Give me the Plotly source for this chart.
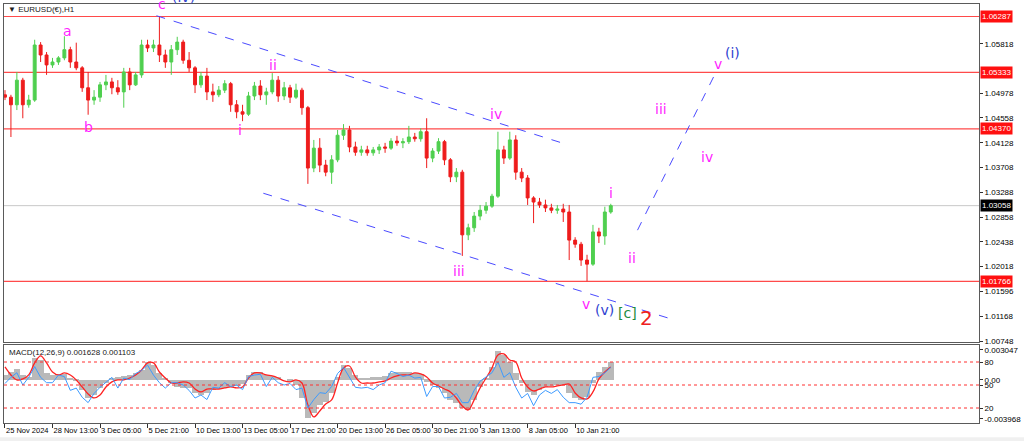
import plotly.graph_objects as go

# ---------------- data ----------------
# candle positions (H1 bar index, one candle every 8 hourly bars)
bar_index = list(range(0, 824, 8))

opens = [1.0495, 1.0491, 1.0478, 1.0520, 1.0478, 1.0486, 1.0580, 1.0563, 1.0546, 1.0551,
         1.0558, 1.0572, 1.0551, 1.0541, 1.0507, 1.0486, 1.0491, 1.0512, 1.0517, 1.0507,
         1.0500, 1.0534, 1.0512, 1.0529, 1.0580, 1.0575, 1.0580, 1.0563, 1.0551, 1.0572,
         1.0585, 1.0554, 1.0541, 1.0512, 1.0527, 1.0500, 1.0495, 1.0503, 1.0514, 1.0478,
         1.0466, 1.0462, 1.0493, 1.0510, 1.0495, 1.0500, 1.0520, 1.0493, 1.0507, 1.0491,
         1.0503, 1.0473, 1.0370, 1.0404, 1.0375, 1.0363, 1.0384, 1.0426, 1.0435, 1.0406,
         1.0397, 1.0401, 1.0396, 1.0401, 1.0406, 1.0404, 1.0416, 1.0413, 1.0415, 1.0423,
         1.0420, 1.0432, 1.0387, 1.0399, 1.0415, 1.0384, 1.0355, 1.0363, 1.0256, 1.0268,
         1.0288, 1.0298, 1.0305, 1.0322, 1.0401, 1.0387, 1.0418, 1.0363, 1.0353, 1.0319,
         1.0312, 1.0307, 1.0302, 1.0298, 1.0300, 1.0295, 1.0247, 1.0240, 1.0213, 1.0206,
         1.0261, 1.0254, 1.0295]
closes = [1.0491, 1.0478, 1.0520, 1.0478, 1.0486, 1.0580, 1.0563, 1.0546, 1.0551, 1.0558,
          1.0572, 1.0551, 1.0541, 1.0507, 1.0486, 1.0491, 1.0512, 1.0517, 1.0507, 1.0500,
          1.0534, 1.0512, 1.0529, 1.0580, 1.0575, 1.0580, 1.0563, 1.0551, 1.0572, 1.0585,
          1.0554, 1.0541, 1.0512, 1.0527, 1.0500, 1.0495, 1.0503, 1.0514, 1.0478, 1.0466,
          1.0462, 1.0493, 1.0510, 1.0495, 1.0500, 1.0520, 1.0493, 1.0507, 1.0491, 1.0503,
          1.0473, 1.0370, 1.0404, 1.0375, 1.0363, 1.0384, 1.0426, 1.0435, 1.0406, 1.0397,
          1.0401, 1.0396, 1.0401, 1.0406, 1.0404, 1.0416, 1.0413, 1.0415, 1.0423, 1.0420,
          1.0432, 1.0387, 1.0399, 1.0415, 1.0384, 1.0355, 1.0363, 1.0256, 1.0268, 1.0288,
          1.0298, 1.0305, 1.0322, 1.0401, 1.0387, 1.0418, 1.0363, 1.0353, 1.0319, 1.0312,
          1.0307, 1.0302, 1.0298, 1.0300, 1.0295, 1.0247, 1.0240, 1.0213, 1.0206, 1.0261,
          1.0254, 1.0295, 1.03058]
highs = [1.0503, 1.0495, 1.0534, 1.0524, 1.0495, 1.0589, 1.0585, 1.0568, 1.0558, 1.0561,
         1.0595, 1.0577, 1.0584, 1.0544, 1.0534, 1.0503, 1.0517, 1.0529, 1.0524, 1.0520,
         1.0541, 1.0541, 1.0534, 1.0589, 1.0589, 1.0589, 1.0629, 1.0572, 1.0580, 1.0594,
         1.0589, 1.0568, 1.0544, 1.0534, 1.0541, 1.0514, 1.0510, 1.0520, 1.0517, 1.0486,
         1.0478, 1.0500, 1.0517, 1.0520, 1.0507, 1.0532, 1.0527, 1.0517, 1.0512, 1.0514,
         1.0507, 1.0476, 1.0418, 1.0421, 1.0384, 1.0392, 1.0435, 1.0445, 1.0442, 1.0415,
         1.0408, 1.0408, 1.0406, 1.0411, 1.0413, 1.0421, 1.0425, 1.0421, 1.0442, 1.0430,
         1.0438, 1.0455, 1.0404, 1.0421, 1.0418, 1.0387, 1.0370, 1.0367, 1.0275, 1.0295,
         1.0307, 1.0312, 1.0326, 1.0432, 1.0408, 1.0432, 1.0426, 1.0370, 1.0358, 1.0322,
         1.0319, 1.0316, 1.0309, 1.0307, 1.0309, 1.0307, 1.0252, 1.0244, 1.0222, 1.0273,
         1.0268, 1.0304, 1.0309]
lows = [1.0486, 1.0423, 1.0469, 1.0455, 1.0473, 1.0483, 1.0551, 1.0529, 1.0541, 1.0546,
        1.0554, 1.0541, 1.0537, 1.0500, 1.0461, 1.0478, 1.0483, 1.0503, 1.0496, 1.0495,
        1.0473, 1.0503, 1.0510, 1.0524, 1.0568, 1.0568, 1.0551, 1.0541, 1.0529, 1.0563,
        1.0548, 1.0534, 1.0498, 1.0507, 1.0486, 1.0483, 1.0491, 1.0498, 1.0466, 1.0455,
        1.0450, 1.0459, 1.0486, 1.0486, 1.0478, 1.0496, 1.0483, 1.0486, 1.0481, 1.0488,
        1.0461, 1.0343, 1.0363, 1.0363, 1.0356, 1.0343, 1.0380, 1.0418, 1.0397, 1.0391,
        1.0391, 1.0391, 1.0391, 1.0394, 1.0396, 1.0401, 1.0408, 1.0404, 1.0411, 1.0415,
        1.0415, 1.0370, 1.0380, 1.0394, 1.0375, 1.0346, 1.0346, 1.0220, 1.0247, 1.0261,
        1.0281, 1.0292, 1.0302, 1.0319, 1.0377, 1.0384, 1.0350, 1.0346, 1.0307, 1.0276,
        1.0302, 1.0295, 1.0293, 1.0292, 1.0278, 1.0213, 1.0234, 1.0203, 1.0177, 1.0203,
        1.0242, 1.0239, 1.0292]

macd_main = [0.00051, 0.00081, 0.00112, 0.00051, 0.00031, 0.00224, 0.00203, 0.00071, 0.00051, 0.00061,
             0.00061, 0.00020, -0.00010, -0.00102, -0.00183, -0.00153, -0.00081, -0.00031, 0.00010, 0.00031,
             0.00041, 0.00051, 0.00071, 0.00102, 0.00183, 0.00153, 0.00071, 0.00020, -0.00031, -0.00071,
             -0.00081, -0.00081, -0.00132, -0.00153, -0.00132, -0.00102, -0.00092, -0.00081, -0.00071, -0.00061,
             -0.00041, 0.00051, 0.00081, 0.00081, 0.00051, 0.00041, 0.00031, 0.0, -0.00020, -0.00051,
             -0.00183, -0.00386, -0.00336, -0.00254, -0.00224, -0.00132, 0.00031, 0.00153, 0.00122, 0.00051,
             0.00020, 0.00020, 0.00031, 0.00031, 0.00041, 0.00071, 0.00081, 0.00081, 0.00081, 0.00071,
             0.00061, -0.00020, -0.00051, -0.00081, -0.00132, -0.00203, -0.00234, -0.00285, -0.00305, -0.00203,
             -0.00071, 0.00020, 0.00132, 0.00295, 0.00254, 0.00183, 0.00071, -0.00031, -0.00122, -0.00153,
             -0.00102, -0.00071, -0.00061, -0.00051, -0.00051, -0.00132, -0.00183, -0.00203, -0.00173, -0.00031,
             0.00081, 0.00132, 0.00183]
macd_signal = [0.00132, 0.00051, 0.0, 0.00010, 0.00051, 0.00173, 0.00244, 0.00173, 0.00081, 0.00051,
               0.00071, 0.00051, 0.0, -0.00071, -0.00142, -0.00183, -0.00153, -0.00071, -0.00020, 0.0,
               0.0, 0.00020, 0.00051, 0.00102, 0.00173, 0.00173, 0.00081, 0.00020, -0.00031, -0.00031,
               -0.00020, -0.00031, -0.00092, -0.00122, -0.00092, -0.00092, -0.00092, -0.00081, -0.00071, -0.00081,
               -0.00071, 0.00020, 0.00071, 0.00071, 0.00051, 0.00041, 0.00020, -0.00010, -0.00020, 0.0,
               -0.00031, -0.00254, -0.00376, -0.00315, -0.00244, -0.00203, -0.00031, 0.00122, 0.00142, 0.00031,
               -0.00031, -0.00031, -0.00031, -0.00020, -0.00010, 0.00020, 0.00041, 0.00051, 0.00051, 0.00071,
               0.00061, 0.00031, -0.00031, -0.00061, -0.00092, -0.00122, -0.00183, -0.00264, -0.00305, -0.00203,
               -0.00081, 0.00020, 0.00122, 0.00254, 0.00264, 0.00203, 0.00183, 0.00020, -0.00071, -0.00112,
               -0.00092, -0.00071, -0.00071, -0.00061, -0.00051, -0.00041, -0.00132, -0.00183, -0.00193, -0.00122,
               0.00010, 0.00081, 0.00132]
oscillator = [52, 60, 66, 50, 60, 74, 60, 53, 53, 63,
              61, 43, 46, 34, 27, 39, 47, 53, 60, 46,
              59, 57, 65, 69, 76, 63, 53, 46, 53, 53,
              50, 43, 33, 37, 31, 47, 46, 53, 48, 50,
              44, 61, 63, 64, 48, 60, 53, 50, 52, 44,
              46, 20, 31, 40, 39, 48, 65, 73, 59, 47,
              46, 47, 44, 50, 53, 68, 65, 61, 63, 59,
              60, 35, 48, 48, 33, 34, 39, 27, 27, 43,
              55, 60, 66, 80, 60, 66, 47, 33, 39, 23,
              37, 43, 39, 44, 34, 27, 27, 25, 34, 60,
              61, 66, 73]
osc_levels = [80, 50, 20]

x_tick_bars = [0, 64, 128, 192, 256, 320, 384, 448, 512, 576, 640, 704, 768]
x_tick_labels = ["25 Nov 2024", "28 Nov 13:00", "3 Dec 05:00", "5 Dec 21:00", "10 Dec 13:00",
                 "13 Dec 05:00", "17 Dec 21:00", "20 Dec 13:00", "26 Dec 05:00", "30 Dec 21:00",
                 "3 Jan 13:00", "8 Jan 05:00", "10 Jan 21:00"]
price_ticks = [1.05818, 1.04978, 1.04558, 1.04128, 1.03708, 1.03288,
               1.02858, 1.02438, 1.02018, 1.01596, 1.01168, 1.00748]
price_tick_labels = ["1.05818", "1.04978", "1.04558", "1.04128", "1.03708",
                     "1.03288", "1.02858", "1.02438", "1.02018", "1.01596", "1.01168", "1.00748"]
macd_ticks = [0.003047, 0.0, -0.003968]
macd_tick_labels = ["0.003047", "0.00", "-0.003968"]

level_prices = [1.06287, 1.05333, 1.04370, 1.01766]
level_labels = ["1.06287", "1.05333", "1.04370", "1.01766"]
current_price = 1.03058
current_label = "1.03058"

# channel / projection lines: (bar0, price0, bar1, price1)
trend_lines = [(204, 1.0630, 755, 1.0411),
               (348, 1.0327, 901, 1.0111),
               (852, 1.0264, 957, 1.0532)]

MAG = "#ff1fff"
BLUE = "#2f3fd0"
# (text, bar, price, colour, size, yshift)
wave_labels = [
    ("a", 84, 1.0604, MAG, 14, 0), ("b", 112, 1.0440, MAG, 14, 0), ("c", 212, 1.0648, MAG, 14, 1),
    ("(iv)", 240, 1.0649, BLUE, 14, 8),
    ("i", 317, 1.0435, MAG, 14, 0), ("ii", 361, 1.0546, MAG, 14, 0), ("iii", 611, 1.0194, MAG, 14, 0),
    ("iv", 661, 1.0462, MAG, 14, 0), ("v", 783, 1.0138, MAG, 14, 0), ("(v)", 807, 1.0128, BLUE, 14, 0),
    ("[c]", 839, 1.0123, "#1e8c3c", 14, 0), ("2", 864, 1.0114, "#ee2020", 20, 0),
    ("i", 816, 1.0327, MAG, 14, 0), ("ii", 844, 1.0216, MAG, 14, 0), ("iii", 883, 1.0471, MAG, 14, 0),
    ("iv", 945, 1.0389, MAG, 14, 0), ("v", 960, 1.0548, MAG, 14, 0), ("(i)", 980, 1.0566, BLUE, 14, 0),
]

# ---------------- figure ----------------
AX_FONT = dict(family="Liberation Sans", size=8, color="#000000")
FRAME = "#5a5a5a"

fig = go.Figure()
fig.add_trace(go.Candlestick(
    x=bar_index, open=opens, high=highs, low=lows, close=closes,
    xaxis="x", yaxis="y", whiskerwidth=0,
    increasing=dict(line=dict(color="#4fcf4f", width=1), fillcolor="#4fcf4f"),
    decreasing=dict(line=dict(color="#ee1c1c", width=1), fillcolor="#ee1c1c"),
    showlegend=False, hoverinfo="skip"))
fig.add_trace(go.Bar(x=bar_index, y=macd_main, xaxis="x2", yaxis="y2", width=8,
                     marker=dict(color="#b9b9b9", line=dict(width=0)), showlegend=False))
fig.add_trace(go.Scatter(x=bar_index, y=macd_signal, xaxis="x2", yaxis="y2", mode="lines",
                         line=dict(color="#ff2222", width=1.3, shape="spline"), showlegend=False))
fig.add_trace(go.Scatter(x=bar_index, y=oscillator, xaxis="x2", yaxis="y3", mode="lines",
                         line=dict(color="#3d9bff", width=1), showlegend=False))

shapes = []
for p in level_prices:
    shapes.append(dict(type="line", xref="x domain", yref="y", x0=0, x1=1, y0=p, y1=p,
                       line=dict(color="#ff4a4a", width=1.2), layer="below"))
shapes.append(dict(type="line", xref="x domain", yref="y", x0=0, x1=1, y0=current_price,
                   y1=current_price, line=dict(color="#c8c8c8", width=1), layer="below"))
for lv in osc_levels:
    shapes.append(dict(type="line", xref="x2 domain", yref="y3", x0=0, x1=1, y0=lv, y1=lv,
                       line=dict(color="#ff3030", width=1, dash="dot")))
for b0, p0, b1, p1 in trend_lines:
    shapes.append(dict(type="line", xref="x", yref="y", x0=b0, y0=p0, x1=b1, y1=p1,
                       line=dict(color="#4a4aff", width=1, dash="dash")))
shapes.append(dict(type="rect", xref="paper", yref="paper", x0=-0.01, x1=1.05, y0=-0.034,
                   y1=-0.06, fillcolor="#f0f0f0", line=dict(width=0), layer="below"))

annotations = []
for txt, p in zip(level_labels, level_prices):
    annotations.append(dict(xref="paper", yref="y", x=1, y=p, xanchor="left", yanchor="middle",
                            xshift=1, text=txt, showarrow=False, bgcolor="#ff1010",
                            font=dict(family="Liberation Sans", size=8, color="white"), borderpad=1))
annotations.append(dict(xref="paper", yref="y", x=1, y=current_price, xanchor="left",
                        yanchor="middle", xshift=1, text=current_label, showarrow=False,
                        bgcolor="#000000", font=dict(family="Liberation Sans", size=8, color="white"),
                        borderpad=1))
for txt, b, p, col, sz, ys in wave_labels:
    annotations.append(dict(xref="x", yref="y", x=b, y=p, text=txt, showarrow=False, yshift=ys,
                            font=dict(family="DejaVu Sans", size=sz, color=col)))
annotations.append(dict(xref="paper", yref="paper", x=0, y=0.988, xanchor="left", yanchor="middle",
                        xshift=2, text="▼ EURUSD(€),H1", showarrow=False,
                        font=dict(family="Liberation Sans", size=8, color="#202020")))
annotations.append(dict(xref="paper", yref="paper", x=0, y=0.168, xanchor="left", yanchor="middle",
                        xshift=3, text="MACD(12,26,9) 0.001628 0.001103", showarrow=False,
                        font=dict(family="Liberation Sans", size=8, color="#202020")))

fig.update_layout(
    width=1024, height=441,
    margin=dict(l=3, r=36, t=4, b=18),
    paper_bgcolor="white", plot_bgcolor="white",
    showlegend=False, bargap=0,
    shapes=shapes, annotations=annotations,
    xaxis=dict(domain=[0, 1], anchor="y", range=[-1.33, 1312], showticklabels=False,
               showgrid=False, zeroline=False, showline=True, mirror=True, linecolor=FRAME,
               rangeslider=dict(visible=False), ticks=""),
    xaxis2=dict(domain=[0, 1], anchor="y2", matches="x", tickmode="array", tickvals=x_tick_bars,
                ticktext=x_tick_labels, ticks="outside", ticklen=4, tickcolor="#303030",
                tickangle=0, ticklabelposition="outside right",
                tickfont=dict(family="Liberation Sans", size=7.5, color="#000000"),
                showgrid=False, zeroline=False, showline=True, mirror=True, linecolor=FRAME),
    yaxis=dict(domain=[0.1933, 1], anchor="x", side="right", range=[1.00731, 1.06500],
               tickmode="array", tickvals=price_ticks, ticktext=price_tick_labels,
               ticks="outside", ticklen=3, tickcolor="#303030", tickfont=AX_FONT,
               showgrid=False, zeroline=False, showline=True, mirror=True, linecolor=FRAME),
    yaxis2=dict(domain=[0, 0.1862], anchor="x2", side="right", range=[-0.004375, 0.003555],
                tickmode="array", tickvals=macd_ticks, ticktext=macd_tick_labels,
                ticks="outside", ticklen=3, tickcolor="#303030", tickfont=AX_FONT,
                showgrid=False, zeroline=False, showline=True, mirror=True, linecolor=FRAME),
    yaxis3=dict(overlaying="y2", anchor="x2", side="right", range=[0.44, 102.2],
                tickmode="array", tickvals=osc_levels, ticktext=[str(v) for v in osc_levels],
                ticks="outside", ticklen=3, tickcolor="#303030", tickfont=AX_FONT,
                showgrid=False, zeroline=False, showline=False),
)

fig.write_html("out.html", config={"displayModeBar": False},
               post_script="document.body.style.margin='0';")
